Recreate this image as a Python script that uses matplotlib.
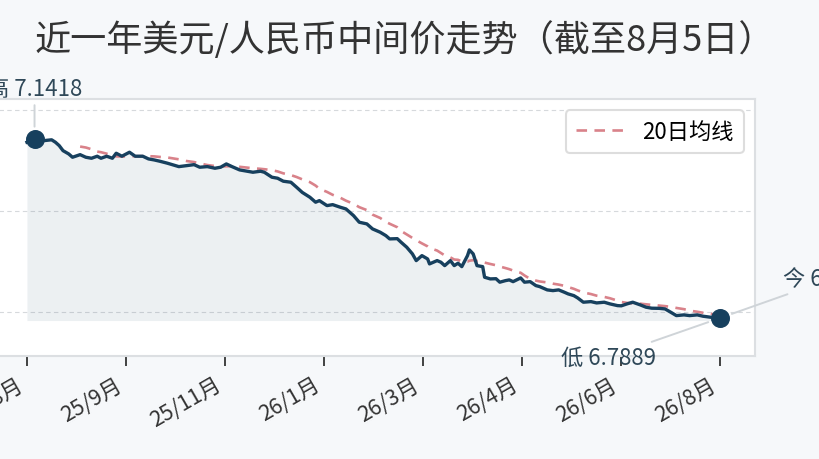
import numpy as np
import pandas as pd
import matplotlib
matplotlib.use("Agg")
import matplotlib.pyplot as plt
import matplotlib.dates as mdates

plt.rcParams['font.family'] = ['Noto Sans CJK SC', 'DejaVu Sans']

# days after 2025-08-05 and the central parity
start = pd.Timestamp('2025-08-05')
days = [0, 4, 7, 9, 13, 15, 17, 19, 22, 24, 28, 31, 34, 37, 39, 42, 45, 47, 50, 54,
        57, 61, 64, 67, 70, 74, 80, 84, 88, 91, 95, 99, 102, 105, 108, 112, 116, 119, 123, 125,
        129, 132, 135, 139, 142, 145, 149, 152, 154, 158, 161, 165, 168, 172, 175, 179, 182, 186, 189, 191,
        195, 197, 200, 203, 205, 208, 211, 212, 216, 218, 220, 223, 225, 227, 229, 232, 233, 235, 237, 240,
        241, 244, 247, 249, 252, 254, 256, 260, 262, 265, 268, 270, 274, 277, 280, 283, 285, 288, 290, 293,
        297, 300, 304, 307, 311, 313, 316, 319, 323, 326, 329, 333, 336, 339, 342, 346, 349, 353, 356, 360,
        365]
rates = [7.1357, 7.1418, 7.1373, 7.1389, 7.1405, 7.1357, 7.1290, 7.1191, 7.1126, 7.1061,
         7.1112, 7.1061, 7.1041, 7.1081, 7.1041, 7.1081, 7.1041, 7.1140, 7.1081, 7.1160,
         7.1081, 7.1081, 7.1028, 7.1008, 7.0982, 7.0943, 7.0876, 7.0895, 7.0915, 7.0864,
         7.0876, 7.0844, 7.0864, 7.0929, 7.0876, 7.0811, 7.0785, 7.0765, 7.0785, 7.0765,
         7.0667, 7.0647, 7.0588, 7.0568, 7.0469, 7.0367, 7.0272, 7.0174, 7.0205, 7.0107,
         7.0126, 7.0075, 7.0041, 6.9909, 6.9779, 6.9746, 6.9647, 6.9582, 6.9515, 6.9450,
         6.9455, 6.9385, 6.9286, 6.9154, 6.9022, 6.9120, 6.9055, 6.8957, 6.9022, 6.8990,
         6.8923, 6.9022, 6.8923, 6.8970, 6.8903, 6.9120, 6.9233, 6.9154, 6.8923, 6.8903,
         6.8694, 6.8661, 6.8665, 6.8596, 6.8627, 6.8641, 6.8607, 6.8680, 6.8596, 6.8607,
         6.8529, 6.8509, 6.8444, 6.8430, 6.8444, 6.8398, 6.8365, 6.8331, 6.8286, 6.8201,
         6.8213, 6.8187, 6.8201, 6.8168, 6.8134, 6.8130, 6.8168, 6.8201, 6.8148, 6.8103,
         6.8083, 6.8080, 6.8069, 6.8004, 6.7937, 6.7951, 6.7937, 6.7951, 6.7925, 6.7905,
         6.7889]

title = "近一年美元/人民币中间价走势（截至8月5日）"
ma_label = "20日均线"

dates = start + pd.to_timedelta(days, unit='D')
s = pd.Series(rates, index=dates)

# 20 trading days ~ 28 calendar days
ma = s.rolling('28D').mean()
ma[s.index < start + pd.Timedelta(days=28)] = np.nan

hi_i = int(np.argmax(rates))
lo_i = int(np.argmin(rates))

navy = '#17405e'
fig = plt.figure(figsize=(8.2, 4.6), dpi=100, facecolor='#f6f8fa')
ax = fig.add_axes([-8 / 820, 1 - 357 / 460, 763 / 820, 257 / 460])
ax.set_facecolor('white')

base = min(rates) - 0.005
ax.fill_between(dates, rates, base, color=navy, alpha=0.08, lw=0)
ax.plot(dates, rates, color=navy, lw=2.4, zorder=3, solid_joinstyle='round')
ax.plot(dates, ma, color='#d9828a', lw=1.9, ls=(0, (4, 2.8)), label=ma_label, zorder=2)

ax.scatter([dates[hi_i], dates[-1]], [rates[hi_i], rates[-1]], s=160, color=navy, zorder=5)

line = dict(arrowstyle='-', color='#cfd4d8', lw=1.4, shrinkA=2, shrinkB=9)
ax.annotate(f"高 {rates[hi_i]:.4f}", (dates[hi_i], rates[hi_i]), xytext=(0, 51),
            textcoords='offset pixels', ha='center', va='center', fontsize=16,
            color='#2f4858', arrowprops=line, annotation_clip=False)
ax.annotate(f"低 {rates[lo_i]:.4f}", (dates[lo_i], rates[lo_i]), xytext=(-112, -39),
            textcoords='offset pixels', ha='center', va='center', fontsize=16,
            color='#2f4858', arrowprops=line, annotation_clip=False)
ax.annotate(f"今 {rates[-1]:.4f}", (dates[-1], rates[-1]), xytext=(63, 39),
            textcoords='offset pixels', ha='left', va='center', fontsize=16,
            color='#2f4858', arrowprops=line, annotation_clip=False)

ax.set_xlim(start - pd.Timedelta(days=18.4), start + pd.Timedelta(days=383.4))
ax.set_ylim(6.714, 7.221)
ax.set_yticks([6.8, 7.0, 7.2])
ax.grid(axis='y', color='#d6d9dc', ls=(0, (4, 3)), lw=0.8)
ax.set_axisbelow(True)

ticks = pd.date_range(dates[0], dates[-1], periods=8)
ax.set_xticks(ticks)
ax.xaxis.set_major_formatter(plt.FuncFormatter(
    lambda v, p: f"{mdates.num2date(v).year % 100}/{mdates.num2date(v).month}月"))
ax.tick_params(axis='x', length=7.5, width=1.3, color='#333333', labelsize=15.5,
               labelcolor='#333333', pad=5)
ax.tick_params(axis='y', length=0, labelsize=12)
plt.setp(ax.get_xticklabels(), rotation=30, ha='right')

for sp in ax.spines.values():
    sp.set_color('#dcdfe2')
    sp.set_linewidth(1.5)

leg = ax.legend(loc='upper right', fontsize=16, frameon=True, fancybox=True,
                edgecolor='#dddddd', facecolor='white', framealpha=1,
                handlelength=2.2, borderpad=0.45)
leg.get_frame().set_linewidth(1.5)

fig.text(405 / 820, 1 - 40 / 460, title, ha='center', va='center', fontsize=26,
         color='#333333')

fig.savefig('out.png', dpi=100, facecolor=fig.get_facecolor())
